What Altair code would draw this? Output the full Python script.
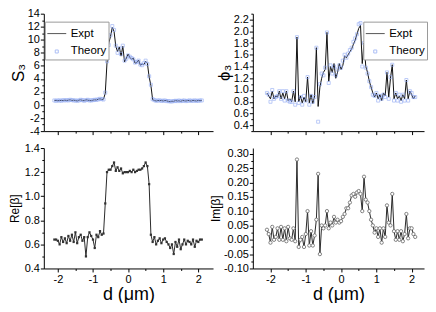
import altair as alt
import pandas as pd

FONT = "Liberation Sans"

d = [-2.1, -2.05, -2.0, -1.95, -1.9, -1.85, -1.8, -1.75, -1.7, -1.65,
     -1.6, -1.55, -1.5, -1.45, -1.4, -1.35, -1.3, -1.25, -1.2, -1.15,
     -1.1, -1.05, -1.0, -0.95, -0.9, -0.85, -0.8, -0.75, -0.7, -0.65,
     -0.6, -0.55, -0.5, -0.45, -0.4, -0.35, -0.3, -0.25, -0.2, -0.15,
     -0.1, -0.05, 0.0, 0.05, 0.1, 0.15, 0.2, 0.25, 0.3, 0.35,
     0.4, 0.45, 0.5, 0.55, 0.6, 0.65, 0.7, 0.75, 0.8, 0.85,
     0.9, 0.95, 1.0, 1.05, 1.1, 1.15, 1.2, 1.25, 1.3, 1.35,
     1.4, 1.45, 1.5, 1.55, 1.6, 1.65, 1.7, 1.75, 1.8, 1.85,
     1.9, 1.95, 2.0, 2.05, 2.1]

s3_expt = [0.7, 0.7, 0.65, 0.7, 0.7, 0.7, 0.75, 0.7, 0.75, 0.8,
           0.7, 0.75, 0.7, 0.6, 0.75, 0.8, 0.7, 0.65, 0.8, 0.75,
           0.7, 0.65, 0.75, 0.8, 0.75, 0.9, 0.95, 0.85, 0.9, 1.8,
           6.5, 9.5, 10.5, 11.9, 11.3, 9.0, 8.2, 8.9, 7.5, 9.0,
           6.6, 7.2, 7.8, 7.3, 7.0, 7.2, 6.4, 6.5, 6.9, 6.1,
           6.3, 6.2, 6.7, 6.4, 4.3, 3.0, 0.8, 0.7, 0.6, 0.7,
           0.65, 0.7, 0.6, 0.7, 0.65, 0.55, 0.5, 0.6, 0.55, 0.7,
           0.6, 0.65, 0.55, 0.7, 0.65, 0.6, 0.7, 0.65, 0.6, 0.7,
           0.65, 0.6, 0.7, 0.65, 0.7]

s3_theory = [0.7, 0.65, 0.7, 0.7, 0.65, 0.75, 0.7, 0.75, 0.7, 0.8,
             0.75, 0.7, 0.7, 0.65, 0.7, 0.8, 0.75, 0.65, 0.75, 0.8,
             0.7, 0.7, 0.75, 0.8, 0.8, 0.85, 0.95, 0.9, 0.85, 1.9,
             6.7, 9.2, 10.7, 12.1, 11.5, 9.1, 8.0, 8.7, 7.8, 9.1,
             6.8, 7.1, 7.6, 7.4, 7.2, 7.0, 6.5, 6.6, 6.8, 6.2,
             6.1, 6.4, 6.8, 6.3, 4.4, 3.1, 0.9, 0.75, 0.65, 0.7,
             0.7, 0.65, 0.65, 0.7, 0.6, 0.6, 0.55, 0.55, 0.6, 0.65,
             0.6, 0.7, 0.6, 0.65, 0.7, 0.6, 0.65, 0.7, 0.65, 0.65,
             0.7, 0.65, 0.65, 0.7, 0.7]

phi3_expt = [0.95, 0.9, 0.85, 0.98, 0.85, 0.9, 0.88, 0.98, 0.85, 0.95,
             0.85, 0.98, 0.82, 0.85, 0.8, 0.98, 0.8, 1.9, 0.8, 0.9,
             0.78, 0.88, 0.8, 1.22, 0.78, 0.92, 0.77, 0.9, 1.72, 0.72,
             1.05, 1.2, 1.3, 1.35, 1.98, 1.15, 1.4, 1.3, 1.45, 1.2,
             1.3, 1.45, 1.35, 1.42, 1.58, 1.55, 1.6, 1.65, 1.7, 1.78,
             1.85, 1.95, 2.05, 2.1, 1.45, 1.8, 1.4, 1.3, 1.15, 1.05,
             0.95, 0.88, 0.95, 0.85, 0.92, 0.82, 0.95, 0.9, 1.3, 0.88,
             1.2, 1.43, 0.85, 0.95, 0.85, 0.9, 0.82, 0.92, 0.85, 1.17,
             0.85, 0.98, 0.92, 0.85, 0.9]

phi3_theory = [0.95, 0.92, 0.8, 1.0, 0.85, 0.88, 0.9, 0.98, 0.85, 0.98,
               0.82, 0.98, 0.82, 0.8, 0.8, 0.98, 0.75, 1.9, 0.78, 0.88,
               0.75, 0.9, 0.82, 1.22, 0.75, 0.9, 0.8, 0.88, 1.72, 0.46,
               1.1, 1.28, 1.25, 1.38, 1.98, 1.12, 1.42, 1.28, 1.4, 1.25,
               1.35, 1.42, 1.38, 1.5, 1.6, 1.55, 1.62, 1.68, 1.72, 1.82,
               1.88, 1.95, 2.12, 2.14, 1.4, 1.8, 1.38, 1.28, 1.15, 1.05,
               0.92, 0.9, 0.95, 0.82, 0.9, 0.85, 0.92, 0.88, 1.3, 0.85,
               1.22, 1.43, 0.82, 0.95, 0.82, 0.92, 0.8, 0.92, 0.82, 1.17,
               0.82, 0.98, 0.95, 0.88, 0.88]

re_beta = [0.64, 0.64, 0.63, 0.6, 0.66, 0.62, 0.65, 0.61, 0.67, 0.63,
           0.68, 0.62, 0.7, 0.61, 0.66, 0.68, 0.63, 0.66, 0.5, 0.66,
           0.7, 0.67, 0.64, 0.57, 0.68, 0.66, 0.71, 0.68, 0.69, 0.94,
           1.2, 1.22, 1.22, 1.25, 1.28, 1.21, 1.24, 1.21, 1.23, 1.19,
           1.2, 1.2, 1.2, 1.21, 1.2, 1.22, 1.2, 1.21, 1.22, 1.22,
           1.23, 1.25, 1.28, 1.25, 1.1, 0.68, 0.62, 0.66, 0.6, 0.63,
           0.65, 0.61, 0.64, 0.65, 0.62, 0.6, 0.57, 0.6, 0.52, 0.62,
           0.58, 0.64, 0.56, 0.6, 0.64, 0.6, 0.63, 0.62, 0.6, 0.64,
           0.58, 0.63, 0.62, 0.64, 0.64]

im_beta = [0.035, 0.02, -0.01, 0.045, 0.0, 0.01, 0.04, 0.0, 0.045, 0.0,
           0.04, -0.005, 0.045, 0.005, 0.0, 0.04, -0.005, 0.28, -0.025, 0.0,
           0.01, -0.025, 0.02, 0.10, -0.02, 0.03, -0.02, 0.015, 0.07, 0.23,
           -0.05, 0.05, 0.04, 0.05, 0.10, 0.04, 0.06, 0.05, 0.08, 0.06,
           0.07, 0.06, 0.065, 0.08, 0.09, 0.11, 0.11, 0.13, 0.155, 0.16,
           0.15, 0.165, 0.17, 0.16, 0.10, 0.22, 0.14, 0.13, 0.10, 0.07,
           0.05, 0.025, 0.04, 0.01, 0.04, -0.01, 0.04, 0.01, 0.12, 0.06,
           0.05, 0.16, 0.03, 0.0, 0.03, 0.0, 0.03, -0.005, 0.02, 0.09,
           0.005, 0.04, 0.04, 0.02, 0.01]

series_names = ["Expt", "Theory"]
x_ticks = [-2, -1.5, -1, -0.5, 0, 0.5, 1, 1.5, 2]
s3_ticks = list(range(-4, 15))
phi3_ticks = [0.3, 0.4, 0.5, 0.6, 0.7, 0.8, 0.9, 1.0, 1.1, 1.2, 1.3, 1.4, 1.5,
              1.6, 1.7, 1.8, 1.9, 2.0, 2.1, 2.2, 2.3]
re_ticks = [0.4, 0.5, 0.6, 0.7, 0.8, 0.9, 1.0, 1.1, 1.2, 1.3, 1.4]
im_ticks = [-0.1, -0.075, -0.05, -0.025, 0.0, 0.025, 0.05, 0.075, 0.1, 0.125,
            0.15, 0.175, 0.2, 0.225, 0.25, 0.275, 0.3]

for arr in (s3_expt, s3_theory, phi3_expt, phi3_theory, re_beta, im_beta):
    assert len(arr) == len(d)

MINUS = "\u2212"


def is_multiple(step):
    return f"abs(datum.value / {step} - round(datum.value / {step})) < 0.001"


def tsize(step):
    return {"condition": {"test": is_multiple(step), "value": 3.5}, "value": 2}


def lab(step):
    return f"{is_multiple(step)} ? replace(datum.label, '{MINUS}', '-') : ''"


COL1_W, COL2_W = 170, 172
ROW1_H, ROW2_H = 118, 121
X1_DOM = [-2.4, 2.42]
X2_DOM = [-2.5, 2.35]


def x_axis(bottom):
    if bottom:
        return alt.Axis(values=x_ticks, tickSize=tsize(1), labelExpr=lab(1),
                        format=".0f", title="d (\u03bcm)", titleFontSize=18,
                        titlePadding=1, labelPadding=2)
    return alt.Axis(values=x_ticks, tickSize=tsize(1), labels=False, title=None)


shape_range = ["M-1,0L1,0", "M-0.16,-0.16L0.16,-0.16L0.16,0.16L-0.16,0.16Z"]
SYM = 361
LEG_W = 61


def top_panel(expt, theory, ydom, yticks, ystep, yfmt, ytitle, width, xdom, legx):
    df = pd.DataFrame({
        "d": d + d,
        "v": expt + theory,
        "series": ["Expt"] * len(d) + ["Theory"] * len(d),
    })
    x = alt.X("d:Q", scale=alt.Scale(domain=xdom, nice=False, zero=False),
              axis=x_axis(False))
    y = alt.Y("v:Q", scale=alt.Scale(domain=ydom, nice=False, zero=False),
              axis=alt.Axis(values=yticks, tickSize=tsize(ystep), labelExpr=lab(ystep),
                            format=yfmt, title=ytitle, titleFontSize=17,
                            titlePadding=0, labelPadding=1))
    legend = alt.Legend(title=None, orient="none", legendX=legx, legendY=8,
                        strokeColor="#999999", fillColor="white", padding=2,
                        labelFont=FONT, labelFontSize=11.5, symbolSize=SYM,
                        symbolStrokeWidth=1, symbolFillColor="white",
                        rowPadding=2, labelOffset=4)
    color = alt.Color("series:N",
                      scale=alt.Scale(domain=series_names, range=["#111111", "#8aa4f2"]),
                      legend=legend)
    shape = alt.Shape("series:N", scale=alt.Scale(domain=series_names, range=shape_range),
                      legend=legend)
    line = alt.Chart(df).transform_filter(alt.datum.series == "Expt").mark_line(
        strokeWidth=1).encode(x=x, y=y, color=color)
    pts = alt.Chart(df).transform_filter(alt.datum.series == "Theory").mark_point(
        filled=False, size=SYM, strokeWidth=0.8).encode(x=x, y=y, color=color, shape=shape)
    return alt.layer(line, pts).properties(width=width, height=ROW1_H)


def bottom_panel(vals, ydom, yticks, ystep, yfmt, ytitle, width, xdom, pt_mark, tpad):
    df = pd.DataFrame({"d": d, "v": vals})
    x = alt.X("d:Q", scale=alt.Scale(domain=xdom, nice=False, zero=False),
              axis=x_axis(True))
    y = alt.Y("v:Q", scale=alt.Scale(domain=ydom, nice=False, zero=False),
              axis=alt.Axis(values=yticks, tickSize=tsize(ystep), labelExpr=lab(ystep),
                            format=yfmt, title=ytitle, titleFontSize=12,
                            titlePadding=tpad, labelPadding=1))
    line = alt.Chart(df).mark_line(strokeWidth=1, color="#2a2a2a").encode(x=x, y=y)
    pts = alt.Chart(df).mark_point(**pt_mark).encode(x=x, y=y)
    return alt.layer(line, pts).properties(width=width, height=ROW2_H)


tl = top_panel(s3_expt, s3_theory, [-4, 14], s3_ticks, 2, ".0f", "S\u2083",
               COL1_W, X1_DOM, 1)
tr = top_panel(phi3_expt, phi3_theory, [0.3, 2.3], phi3_ticks, 0.2, ".1f", "\u03d5\u2083",
               COL2_W, X2_DOM, COL2_W - LEG_W)
bl = bottom_panel(re_beta, [0.4, 1.4], re_ticks, 0.2, ".1f", "Re[\u03b2]",
                  COL1_W, X1_DOM,
                  dict(filled=True, size=5, color="#333333", shape="square", opacity=1), 3)
br = bottom_panel(im_beta, [-0.1, 0.32], im_ticks, 0.05, ".2f", "Im[\u03b2]",
                  COL2_W, X2_DOM,
                  dict(filled=False, size=11, strokeWidth=0.8, color="#666666",
                       fill="white", fillOpacity=1, shape="circle"), 1)

chart = alt.concat(tl, tr, bl, br, columns=2,
                   spacing={"row": 17, "column": 40}).properties(
    bounds="flush",
    padding={"left": 0, "top": -1, "right": 0, "bottom": -2},
).resolve_scale(color="independent", shape="independent").configure_view(
    stroke=None
).configure_axis(
    grid=False, domainColor="black", tickColor="black", domainWidth=1, tickWidth=1,
    labelFont=FONT, labelFontSize=11, labelColor="black",
    titleFont=FONT, titleColor="black", titleFontWeight="normal",
)

chart.save("out.html", embed_options={"renderer": "svg", "actions": False})
